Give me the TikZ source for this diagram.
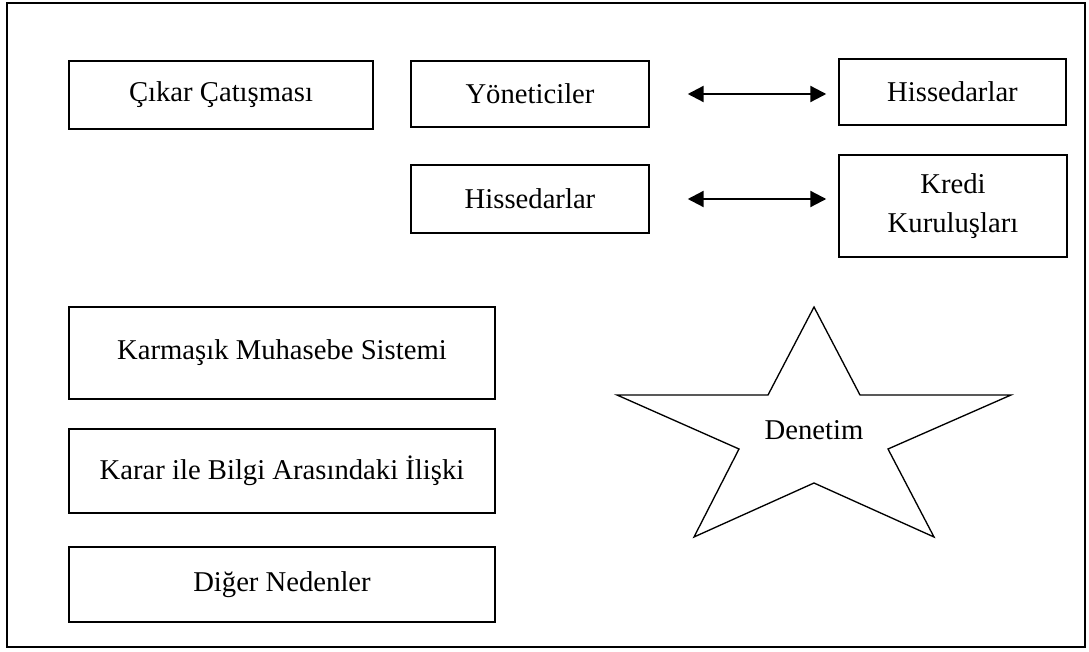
\documentclass[tikz,border=0pt]{standalone}
\usepackage{fontspec}
\setmainfont{Liberation Serif}
\usepackage{tikz}
\usetikzlibrary{arrows.meta}
\usetikzlibrary{positioning}

\begin{document}
\begin{tikzpicture}[x=0.75pt, y=-0.75pt,
        kutu/.style={rectangle, draw=black, line width=1.1pt, inner sep=0pt, align=center, font=\fontsize{21.5}{29}\selectfont},
        okcift/.style={{Triangle[length=12pt,width=12pt]}-{Triangle[length=12pt,width=12pt]}, line width=1.7pt}]

       \useasboundingbox (0,0) rectangle (1089,652);
       \draw[line width=1.5pt] (7,3) rectangle (1085,647);

       \node[kutu, minimum width=228pt, minimum height=51pt] (cikar) at (221,95) {Çıkar Çatışması};
       \node[kutu, minimum width=178.5pt, minimum height=49.5pt] (yon) at (530,94) {Yöneticiler};
       \node[kutu, minimum width=170.25pt, minimum height=49.5pt] (his1) at (952.5,92) {Hissedarlar};
       \node[kutu, minimum width=178.5pt, minimum height=51pt] (his2) at (530,199) {Hissedarlar};
       \node[kutu, minimum width=171pt, minimum height=76.5pt] (kredi) at (953,206) {Kredi\\Kuruluşları};

       \draw[okcift, shorten <=28.5pt, shorten >=9pt] (yon.east) -- (yon.east -| his1.west);
       \draw[okcift, shorten <=28.5pt, shorten >=9pt] (his2.east) -- (his2.east -| kredi.west);

       \node[kutu, minimum width=319.5pt, minimum height=69pt] (karmasik) at (282,353) {Karmaşık Muhasebe Sistemi};
       \node[kutu, minimum width=319.5pt, minimum height=63pt] (karar) at (282,471) {Karar ile Bilgi Arasındaki İlişki};
       \node[kutu, minimum width=319.5pt, minimum height=56.25pt] (diger) at (282,584.5) {Diğer Nedenler};

       \draw[line width=1pt, line join=miter] (814,307) -- (860,395) -- (1011,395) -- (888,449) -- (934,537)
             -- (814,483) -- (694,537) -- (739,449) -- (617,395) -- (768,395) -- cycle;
       \node[font=\fontsize{21.5}{29}\selectfont] (denetim) at (814,430) {Denetim};

\end{tikzpicture}
\end{document}
